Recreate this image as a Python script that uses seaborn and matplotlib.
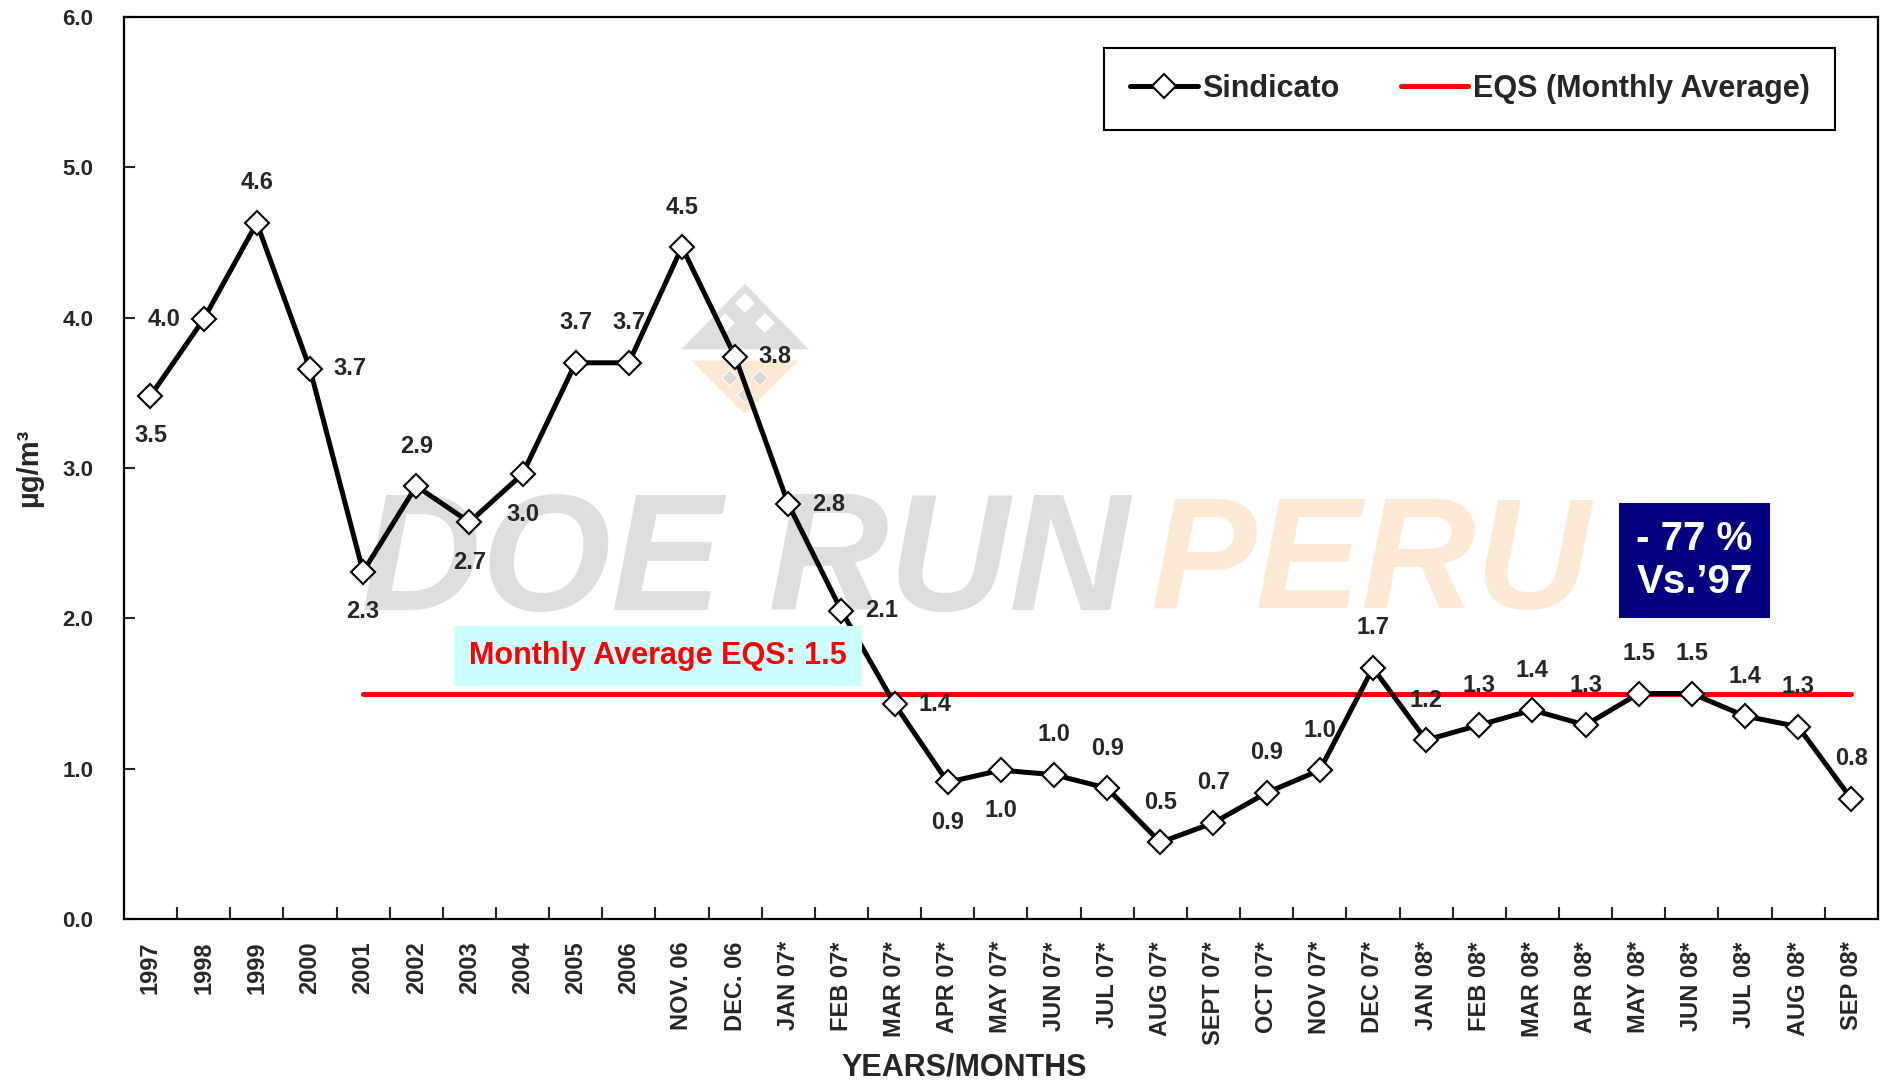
import numpy as np
import pandas as pd
import matplotlib
matplotlib.use("Agg")
import matplotlib.pyplot as plt
from matplotlib.patches import Polygon
import seaborn as sns

# data
periods = ["1997", "1998", "1999", "2000", "2001", "2002", "2003", "2004", "2005", "2006",
           "NOV. 06", "DEC. 06", "JAN 07*", "FEB 07*", "MAR 07*", "APR 07*", "MAY 07*",
           "JUN 07*", "JUL 07*", "AUG 07*", "SEPT 07*", "OCT 07*", "NOV 07*", "DEC 07*",
           "JAN 08*", "FEB 08*", "MAR 08*", "APR 08*", "MAY 08*", "JUN 08*", "JUL 08*",
           "AUG 08*", "SEP 08*"]
sindicato = [3.48, 3.99, 4.63, 3.66, 2.31, 2.88, 2.64, 2.96, 3.70, 3.70,
             4.47, 3.74, 2.76, 2.05, 1.43, 0.91, 0.99, 0.96, 0.87, 0.51,
             0.64, 0.84, 0.99, 1.67, 1.19, 1.29, 1.39, 1.29, 1.50, 1.50,
             1.35, 1.28, 0.80]
value_labels = ["3.5", "4.0", "4.6", "3.7", "2.3", "2.9", "2.7", "3.0", "3.7", "3.7",
                "4.5", "3.8", "2.8", "2.1", "1.4", "0.9", "1.0", "1.0", "0.9", "0.5",
                "0.7", "0.9", "1.0", "1.7", "1.2", "1.3", "1.4", "1.3", "1.5", "1.5",
                "1.4", "1.3", "0.8"]
eqs = [np.nan] * 4 + [1.5] * 29
yticks = [0.0, 1.0, 2.0, 3.0, 4.0, 5.0, 6.0]

# where each value label sits relative to its point
label_side = ["b", "l", "a", "r", "b", "a", "b", "b", "a", "a",
              "a", "r", "r", "r", "r", "b", "b", "a", "a", "a",
              "a", "a", "a", "a", "a", "a", "a", "a", "a", "a",
              "a", "a", "a"]
offsets = {"a": (0, 40), "b": (0, -40), "l": (-40, 0), "r": (40, 0)}

df = pd.DataFrame({"pos": np.arange(len(periods)), "Sindicato": sindicato, "EQS": eqs})

sns.set_style("ticks")
plt.rcParams["font.family"] = ["Liberation Sans", "DejaVu Sans"]
plt.rcParams["font.weight"] = "bold"

fig = plt.figure(figsize=(18.89, 10.84), dpi=100)
ax = fig.add_axes([0.0656, 0.1522, 0.9285, 0.8321])
ax.set_facecolor("none")

# watermark
ax.text(0.135, 0.39, "DOE RUN", transform=ax.transAxes, fontsize=120, fontweight="bold",
        fontstyle="italic", color="#d4d4d4", alpha=0.75, ha="left", va="center", zorder=0)
ax.text(0.585, 0.39, "PERU", transform=ax.transAxes, fontsize=114, fontweight="bold",
        fontstyle="italic", color="#fde3c8", alpha=0.75, ha="left", va="center", zorder=0)


def fpt(x, y):
    return (x / 1889, 1 - y / 1084)


# faint logo behind the axes
fig.patches.append(Polygon([fpt(745, 283), fpt(810, 350), fpt(680, 350)], closed=True,
                           transform=fig.transFigure, facecolor="#d6d6d6", alpha=0.8, zorder=-2))
fig.patches.append(Polygon([fpt(690, 360), fpt(800, 360), fpt(745, 415)], closed=True,
                           transform=fig.transFigure, facecolor="#fde3c8", alpha=0.8, zorder=-2))
for cx, cy in [(745, 303), (725, 323), (765, 323)]:
    fig.patches.append(Polygon([fpt(cx, cy - 9), fpt(cx + 9, cy), fpt(cx, cy + 9), fpt(cx - 9, cy)],
                               closed=True, transform=fig.transFigure, facecolor="white", zorder=-1))
for cx, cy in [(730, 378), (760, 378), (745, 395)]:
    fig.patches.append(Polygon([fpt(cx, cy - 8), fpt(cx + 8, cy), fpt(cx, cy + 8), fpt(cx - 8, cy)],
                               closed=True, transform=fig.transFigure, facecolor="#d6d6d6",
                               alpha=0.8, zorder=-1))

sns.lineplot(data=df, x="pos", y="EQS", color="#ff0000", lw=3.6, ax=ax, zorder=3,
             label="EQS (Monthly Average)")
sns.lineplot(data=df, x="pos", y="Sindicato", color="black", lw=3.6, marker="D", markersize=12,
             markerfacecolor="white", markeredgecolor="black", markeredgewidth=1.5,
             ax=ax, zorder=4, label="Sindicato")

for i, (v, t) in enumerate(zip(sindicato, value_labels)):
    dx, dy = offsets[label_side[i]]
    ax.annotate(t, (i, v), xytext=(dx, dy), textcoords="offset pixels", ha="center",
                va="center", fontsize=17, fontweight="bold", zorder=5)

ax.set_xlim(-0.5, len(periods) - 0.5)
ax.set_ylim(0, 6)
ax.set_yticks(yticks)
ax.set_yticklabels([f"{t:.1f}" for t in yticks], fontsize=16, fontweight="bold")
ax.set_xticks(np.arange(len(periods)))
ax.set_xticklabels(periods, rotation=90, fontsize=17, fontweight="bold", va="top")
ax.set_xticks(np.arange(len(periods) - 1) + 0.5, minor=True)
ax.tick_params(axis="x", which="major", length=0, pad=16)
ax.tick_params(axis="x", which="minor", direction="in", length=9, width=1.5)
ax.tick_params(axis="y", direction="in", length=8, width=1.5, pad=22)
for s in ax.spines.values():
    s.set_visible(True)
    s.set_linewidth(1.6)
    s.set_color("black")

ax.set_xlabel("YEARS/MONTHS", fontsize=22, fontweight="bold")
ax.xaxis.set_label_coords(0.479, -0.148)
ax.set_ylabel("µg/m³", fontsize=21, fontweight="bold")
ax.yaxis.set_label_coords(-0.046, 0.5)

# annotation boxes
ax.text(9.55, 1.75, "Monthly Average EQS: 1.5", ha="center", va="center", color="#ff0000",
        fontsize=22, fontweight="bold", zorder=6,
        bbox=dict(boxstyle="square,pad=0.5", facecolor="#ccffff", edgecolor="none"))
ax.text(29.05, 2.385, "- 77 %\nVs.\u201997", ha="center", va="center", color="white",
        fontsize=29, fontweight="bold", linespacing=1.15, zorder=6,
        bbox=dict(boxstyle="square,pad=0.42", facecolor="#000080", edgecolor="none"))

handles, labels = ax.get_legend_handles_labels()
order = [labels.index("Sindicato"), labels.index("EQS (Monthly Average)")]
leg = ax.legend([handles[k] for k in order], [labels[k] for k in order], loc="upper right",
                bbox_to_anchor=(0.9845, 0.983), ncol=2, frameon=True, fancybox=False,
                edgecolor="black", framealpha=1, fontsize=22, handlelength=2.2,
                columnspacing=2.0, borderpad=0.85, handletextpad=0.15)
leg.get_frame().set_linewidth(1.5)
for t in leg.get_texts():
    t.set_fontweight("bold")

fig.savefig("out.png", dpi=100, facecolor="white")
